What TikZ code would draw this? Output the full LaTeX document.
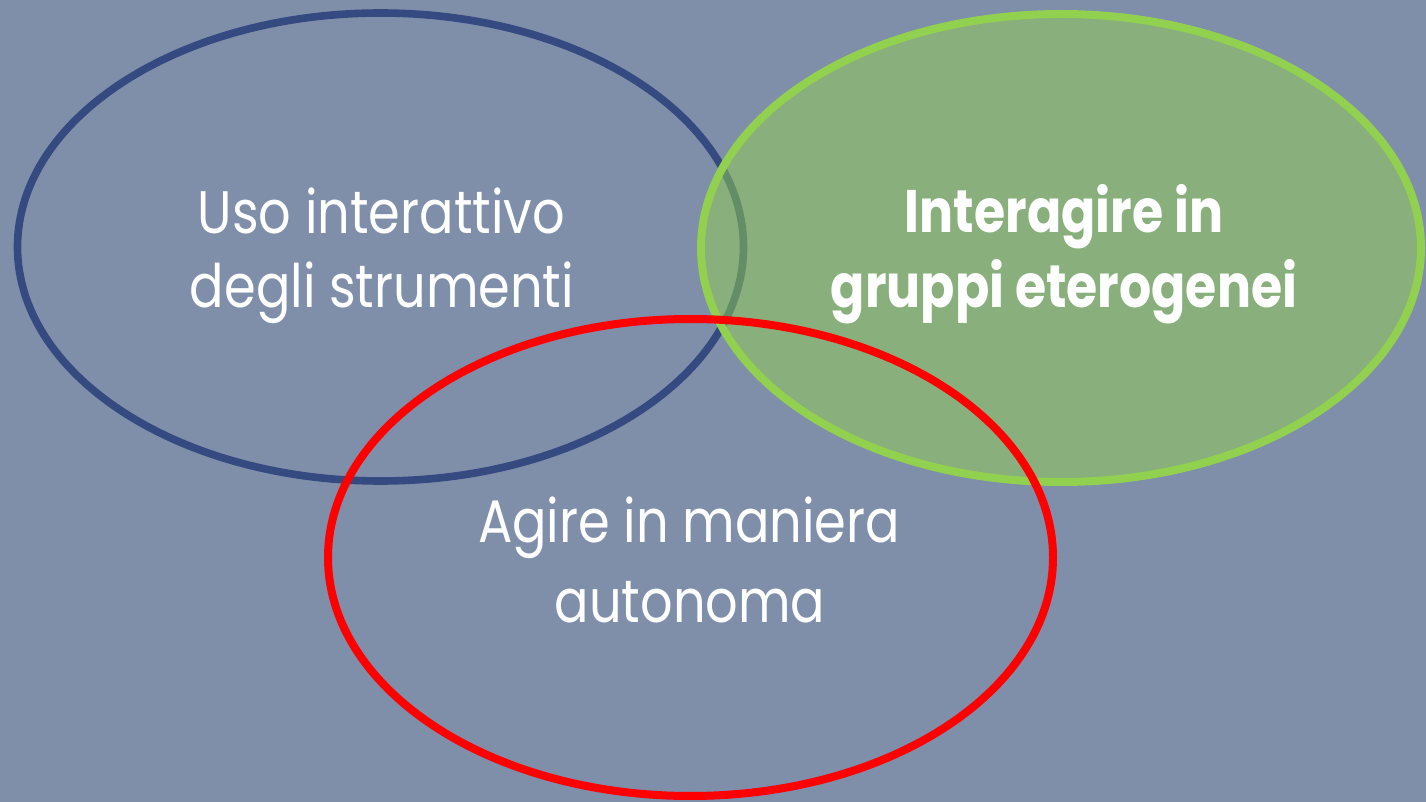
\documentclass[tikz,border=0pt]{standalone}
\usepackage{fontspec}
\setmainfont{Poppins}[FakeStretch=0.85, BoldFeatures={FakeStretch=0.842}]
\usetikzlibrary{shapes.geometric}
\definecolor{bgcol}{HTML}{7F8EA9}
\definecolor{bluecol}{HTML}{344A80}
\definecolor{greencol}{HTML}{92D050}
\definecolor{redcol}{HTML}{FF0000}
\tikzset{
  ring/.style={ellipse, inner sep=0pt, outer sep=0pt, line width=4pt},
  label/.style={text=white, inner sep=0pt, anchor=base, font=\fontsize{30pt}{36pt}\selectfont},
  boldlabel/.style={label, font=\fontsize{30pt}{36pt}\selectfont\bfseries}
}
\begin{document}
\begin{tikzpicture}[x=0.5pt,y=-0.5pt]
\fill[bgcol] (0,0) rectangle (1426,802);
\useasboundingbox (0,0) rectangle (1426,802);
\node[ring, draw=bluecol, line width=3.8pt, minimum width=363pt, minimum height=234pt] (blue) at (380.5,247) {};
\node[ring, draw=greencol, fill=greencol, fill opacity=0.5, minimum width=360pt, minimum height=234pt] (green) at (1061,248) {};
\node[ring, draw=redcol, minimum width=362.5pt, minimum height=238.5pt] (red) at (690.5,557.5) {};
\node[label] (blue1) at (381.5,234) {Uso interattivo};
\node[label] (blue2) at (382,308) {degli strumenti};
\node[boldlabel] (green1) at (1064,233) {Interagire in};
\node[boldlabel] (green2) at (1064,308) {gruppi eterogenei};
\node[label] (red1) at (689,543) {Agire in maniera};
\node[label] (red2) at (690,622) {autonoma};
\end{tikzpicture}
\end{document}
